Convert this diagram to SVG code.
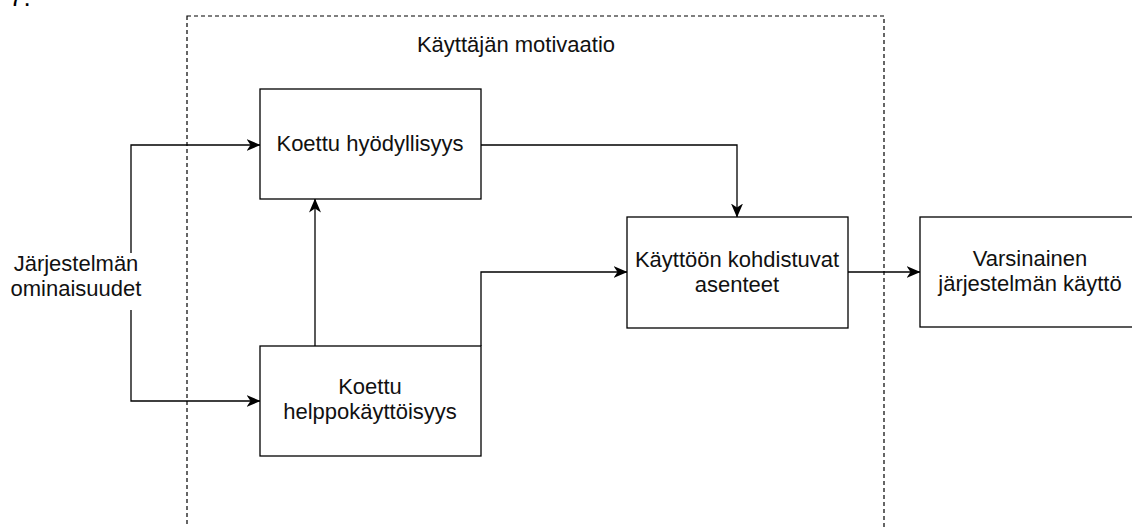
<svg xmlns="http://www.w3.org/2000/svg" width="1132" height="527" viewBox="0 0 1132 527">
  <style>
    .box { fill: #ffffff; stroke: #000000; stroke-width: 1.3; }
    .lbl { font-family: "Liberation Sans", Arial, sans-serif; font-size: 22px; fill: #111111; text-anchor: middle; }
    .edge { fill: none; stroke: #000000; stroke-width: 1.3; marker-end: url(#arrow); }
  </style>
  <defs>
    <marker id="arrow" markerUnits="userSpaceOnUse" viewBox="0 0 14 12" markerWidth="14" markerHeight="12" refX="13.5" refY="6" orient="auto">
      <path d="M0,0 L14,6 L0,12 L4,6 Z" fill="#000000"/>
    </marker>
  </defs>
  <rect width="1132" height="527" fill="#ffffff"/>
  <text x="9" y="6" font-family="Liberation Sans, Arial, sans-serif" font-size="26" fill="#000000">7.</text>

  <g id="motivation-group">
    <rect x="187" y="16" width="697" height="530" fill="none" stroke="#000000" stroke-width="1.2" stroke-dasharray="4 3"/>
    <text class="lbl" x="516" y="52">Käyttäjän motivaatio</text>
  </g>

  <g id="connectors">
    <path class="edge" d="M131,253 V145 H260"/>
    <path class="edge" d="M131,310 V401 H260"/>
    <path class="edge" d="M315,346 V199"/>
    <path class="edge" d="M481,145 H737 V217"/>
    <path class="edge" d="M481,346 V272 H627"/>
    <path class="edge" d="M848,272 H920"/>
  </g>

  <g id="node-ominaisuudet">
    <text class="lbl" x="76" y="271">Järjestelmän</text>
    <text class="lbl" x="76" y="296">ominaisuudet</text>
  </g>

  <g id="node-hyodyllisyys">
    <rect class="box" x="260" y="89" width="221" height="110"/>
    <text class="lbl" x="370" y="151">Koettu hyödyllisyys</text>
  </g>

  <g id="node-helppokayttoisyys">
    <rect class="box" x="260" y="346" width="221" height="110"/>
    <text class="lbl" x="370" y="394">Koettu</text>
    <text class="lbl" x="370" y="419">helppokäyttöisyys</text>
  </g>

  <g id="node-asenteet">
    <rect class="box" x="627" y="217" width="221" height="111"/>
    <text class="lbl" x="737" y="267">Käyttöön kohdistuvat</text>
    <text class="lbl" x="737" y="292">asenteet</text>
  </g>

  <g id="node-kaytto">
    <rect class="box" x="920" y="217" width="221" height="110"/>
    <text class="lbl" x="1030" y="266">Varsinainen</text>
    <text class="lbl" x="1030" y="291">järjestelmän käyttö</text>
  </g>
</svg>
